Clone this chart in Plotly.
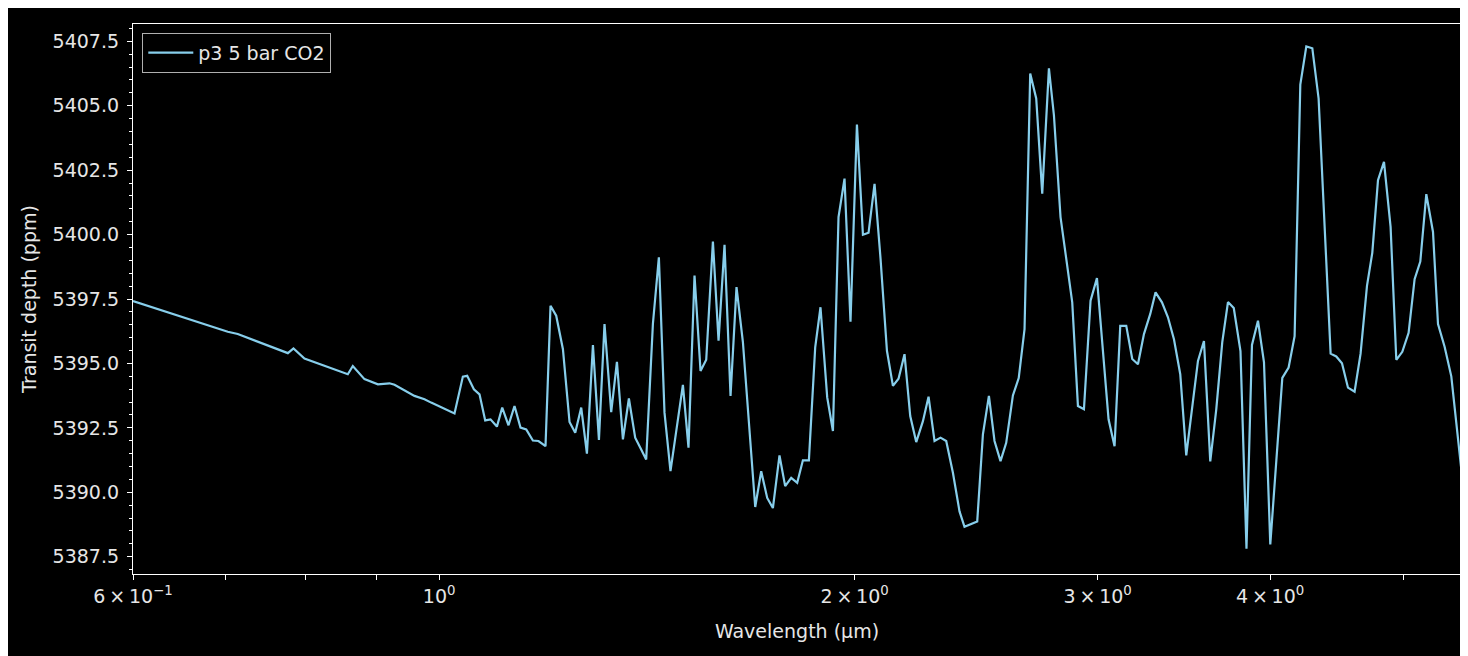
import math
import plotly.graph_objects as go

# Wavelength (micron) and transit depth (ppm)
wavelength = [
    0.600, 0.7028, 0.7146, 0.7769, 0.7842, 0.7987, 0.8586, 0.8658, 0.8828, 0.9028,
    0.9204, 0.9282, 0.9596, 0.9758, 0.9867, 1.0259, 1.0403, 1.0478, 1.0596, 1.0696,
    1.0798, 1.0894, 1.1011, 1.1109, 1.1226, 1.1339, 1.1453, 1.1563, 1.1692, 1.1802,
    1.1941, 1.2041, 1.2156, 1.2293, 1.2429, 1.2548, 1.2674, 1.2795, 1.2924, 1.3054,
    1.3176, 1.3324, 1.3452, 1.3587, 1.3723, 1.3868, 1.3996, 1.4125, 1.4284, 1.4427,
    1.4563, 1.4709, 1.5017, 1.5158, 1.5311, 1.5465, 1.5613, 1.5788, 1.5937, 1.6097,
    1.6259, 1.6422, 1.6598, 1.6943, 1.7113, 1.7285, 1.7450, 1.7643, 1.7811, 1.7991,
    1.8172, 1.8346, 1.8530, 1.8726, 1.8892, 1.9105, 1.9288, 1.9469, 1.9665, 1.9862,
    2.0076, 2.0278, 2.0469, 2.0675, 2.0883, 2.1107, 2.1319, 2.1519, 2.1735, 2.1943,
    2.2164, 2.2413, 2.2624, 2.2851, 2.3081, 2.3301, 2.3563, 2.3824, 2.4023, 2.4293,
    2.4538, 2.4772, 2.5021, 2.5256, 2.5510, 2.5754, 2.6043, 2.6297, 2.6553, 2.6806,
    2.7076, 2.7349, 2.7656, 2.7888, 2.8197, 2.8753, 2.9028, 2.9320, 2.9645, 2.9963,
    3.0229, 3.0549, 3.0856, 3.1151, 3.1465, 3.1781, 3.2085, 3.2407, 3.2750, 3.3041,
    3.3396, 3.3731, 3.4071, 3.4431, 3.4777, 3.5127, 3.5463, 3.5820, 3.6199, 3.6563,
    3.6931, 3.7284, 3.7646, 3.8070, 3.8453, 3.8807, 3.9198, 3.9593, 4.0011, 4.0822,
    4.1253, 4.1668, 4.2066, 4.2490, 4.2917, 4.3370, 4.4248, 4.4668, 4.5095, 4.5549,
    4.6053, 4.6516, 4.7016, 4.7434, 4.7887, 4.8369, 4.8904, 4.9372, 4.9869, 5.0396,
    5.0903, 5.1389, 5.1907, 5.2490, 5.2930, 5.3516, 5.4117, 5.5000,
]

transit_depth = [
    5397.42, 5396.23, 5396.14, 5395.40, 5395.58, 5395.19, 5394.58, 5394.90, 5394.39, 5394.19,
    5394.23, 5394.17, 5393.74, 5393.61, 5393.48, 5393.06, 5394.49, 5394.52, 5394.00, 5393.80,
    5392.79, 5392.83, 5392.55, 5393.29, 5392.60, 5393.35, 5392.51, 5392.44, 5392.01, 5391.99,
    5391.79, 5397.24, 5396.85, 5395.55, 5392.73, 5392.31, 5393.29, 5391.50, 5395.71, 5392.03,
    5396.53, 5393.11, 5395.06, 5392.05, 5393.64, 5392.12, 5391.70, 5391.27, 5396.53, 5399.12,
    5393.09, 5390.82, 5394.17, 5391.73, 5398.41, 5394.71, 5395.14, 5399.73, 5395.88, 5399.60,
    5393.74, 5397.96, 5395.83, 5389.43, 5390.82, 5389.78, 5389.39, 5391.43, 5390.24, 5390.56,
    5390.37, 5391.24, 5391.24, 5395.62, 5397.18, 5393.68, 5392.38, 5400.68, 5402.17, 5396.62,
    5404.27, 5399.99, 5400.07, 5401.97, 5399.06, 5395.49, 5394.13, 5394.41, 5395.36, 5392.96,
    5391.95, 5392.76, 5393.71, 5391.99, 5392.12, 5391.99, 5390.76, 5389.26, 5388.66, 5388.76,
    5388.87, 5392.25, 5393.74, 5391.99, 5391.21, 5391.92, 5393.76, 5394.43, 5396.33, 5406.25,
    5405.28, 5401.59, 5406.45, 5404.63, 5400.68, 5397.37, 5393.35, 5393.22, 5397.43, 5398.31,
    5395.75, 5392.83, 5391.79, 5396.46, 5396.46, 5395.17, 5394.97, 5396.14, 5396.92, 5397.76,
    5397.37, 5396.79, 5395.94, 5394.58, 5391.43, 5393.29, 5395.10, 5395.87, 5391.20, 5393.22,
    5395.83, 5397.38, 5397.15, 5395.48, 5387.81, 5395.72, 5396.66, 5395.04, 5387.98, 5394.44,
    5394.84, 5396.06, 5405.82, 5407.30, 5407.23, 5405.28, 5395.38, 5395.27, 5395.01, 5394.06,
    5393.90, 5395.38, 5398.01, 5399.29, 5402.11, 5402.82, 5400.30, 5395.14, 5395.45, 5396.19,
    5398.27, 5398.95, 5401.57, 5400.10, 5396.53, 5395.65, 5394.50, 5391.00,
]

series_name = "p3 5 bar CO2"

x_tick_values = [0.6, 0.7, 0.8, 0.9, 1, 2, 3, 4, 5]
x_tick_labels = ["6\u2009\u00d7\u200910<sup>\u22121</sup>", "", "", "", "10<sup>0</sup>",
                 "2\u2009\u00d7\u200910<sup>0</sup>", "3\u2009\u00d7\u200910<sup>0</sup>",
                 "4\u2009\u00d7\u200910<sup>0</sup>", ""]
y_tick_values = [5387.5, 5390.0, 5392.5, 5395.0, 5397.5, 5400.0, 5402.5, 5405.0, 5407.5]

x_range = [0.6, 5.5]
y_range = [5386.83, 5408.17]

FONT = "DejaVu Sans"
TEXT = "#e6e6e6"

fig = go.Figure()
fig.add_trace(go.Scatter(
    x=wavelength, y=transit_depth, mode="lines", name=series_name,
    line=dict(color="#87CEEB", width=2.2),
))

fig.update_layout(
    width=1460, height=648,
    margin=dict(l=125, r=7, t=16, b=82, pad=0),
    paper_bgcolor="black", plot_bgcolor="black",
    font=dict(family=FONT, size=19, color=TEXT),
    showlegend=True,
    legend=dict(
        x=0.007, y=0.984, xanchor="left", yanchor="top",
        bgcolor="black", bordercolor="#b0b0b0", borderwidth=1,
        font=dict(family=FONT, size=19, color=TEXT),
        itemwidth=45,
    ),
    xaxis=dict(
        type="log", range=[math.log10(x_range[0]), math.log10(x_range[1])],
        tickmode="array", tickvals=x_tick_values, ticktext=x_tick_labels,
        ticks="outside", ticklen=5, tickwidth=1, tickcolor="white",
        showgrid=False, zeroline=False,
        showline=True, linecolor="white", linewidth=1.2, mirror=True,
        title=dict(text="Wavelength (\u03bcm)", standoff=18, font=dict(size=19)),
        tickfont=dict(size=19),
    ),
    yaxis=dict(
        range=y_range, tickmode="array", tickvals=y_tick_values,
        tickformat=".1f",
        ticks="outside", ticklen=5, tickwidth=1, tickcolor="white",
        ticklabelstandoff=4,
        minor=dict(dtick=0.5, tick0=5387.5, ticks="outside", ticklen=3, tickcolor="white", showgrid=False),
        showgrid=False, zeroline=False,
        showline=True, linecolor="white", linewidth=1.2, mirror=True,
        title=dict(text="Transit depth (ppm)", standoff=10, font=dict(size=19)),
        tickfont=dict(size=19),
    ),
)

fig.write_html("out.html")
